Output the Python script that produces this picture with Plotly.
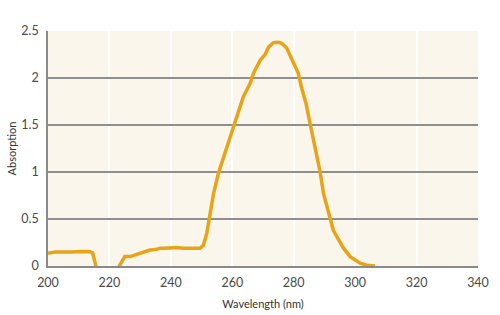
import plotly.graph_objects as go

wavelength = [200, 201, 202.3, 204, 206, 208, 210.4, 212, 213.7, 214.5, 214.8, 215.2, 215.5, 216, 217, 219, 221, 222.5, 223.2, 224, 225, 226.7, 228, 230, 231.5, 233.2, 235, 236.5, 238, 240, 242, 244, 246, 248, 249.5, 250.6, 251.7, 252.8, 253.9, 255.5, 257.1, 258, 260.4, 262, 263.6, 265.8, 266.9, 269.1, 270.7, 271.8, 273.4, 275, 276.1, 277.7, 279.9, 281.5, 282.6, 284, 285.3, 287, 288.6, 289.7, 291.3, 292.9, 294.6, 296.2, 298.4, 300, 301.6, 303.8, 305, 306.5]
absorption = [0.135, 0.14, 0.15, 0.148, 0.145, 0.148, 0.155, 0.15, 0.152, 0.14, 0.1, 0.05, 0.0, -0.05, -0.12, -0.15, -0.12, -0.05, 0.0, 0.05, 0.1, 0.1, 0.115, 0.135, 0.15, 0.17, 0.175, 0.19, 0.19, 0.195, 0.198, 0.19, 0.19, 0.19, 0.19, 0.22, 0.35, 0.56, 0.77, 0.99, 1.15, 1.25, 1.5, 1.66, 1.8, 1.94, 2.05, 2.19, 2.25, 2.33, 2.375, 2.38, 2.37, 2.32, 2.17, 2.05, 1.89, 1.73, 1.52, 1.27, 1.0, 0.77, 0.58, 0.38, 0.28, 0.19, 0.1, 0.06, 0.03, 0.008, 0.003, 0.0]

x_ticks = [200, 220, 240, 260, 280, 300, 320, 340]
y_ticks = [0, 0.5, 1, 1.5, 2, 2.5]

fig = go.Figure()
fig.add_trace(go.Scatter(x=wavelength, y=absorption, mode="lines",
                         line=dict(color="#E8A317", width=3.5),
                         hoverinfo="skip", showlegend=False))

font = dict(family="Lato, 'Open Sans', sans-serif", size=12.5, color="#4A4A4A")

fig.update_layout(
    width=500, height=315,
    margin=dict(l=48, r=22, t=31, b=49),
    paper_bgcolor="white",
    plot_bgcolor="#FBF6EC",
    font=font,
    xaxis=dict(range=[200, 340], tickvals=x_ticks, ticktext=[str(v) for v in x_ticks],
               showgrid=True, gridcolor="white", gridwidth=2,
               showline=True, linecolor="#8A8A8A", linewidth=1.5,
               ticks="", ticklabelstandoff=4, zeroline=False, automargin=False,
               title=dict(text="Wavelength (nm)", font=dict(size=11, color="#333333"), standoff=12)),
    yaxis=dict(range=[0, 2.5], tickvals=y_ticks, ticktext=["0", "0.5", "1", "1.5", "2", "2.5"],
               showgrid=True, gridcolor="#8F8F8F", gridwidth=1.5,
               showline=True, linecolor="#8A8A8A", linewidth=1.5,
               ticks="", ticklabelstandoff=5, zeroline=False, automargin=True,
               title=dict(text="Absorption", font=dict(size=11, color="#333333"), standoff=2)),
)

fig.write_html("out.html")
